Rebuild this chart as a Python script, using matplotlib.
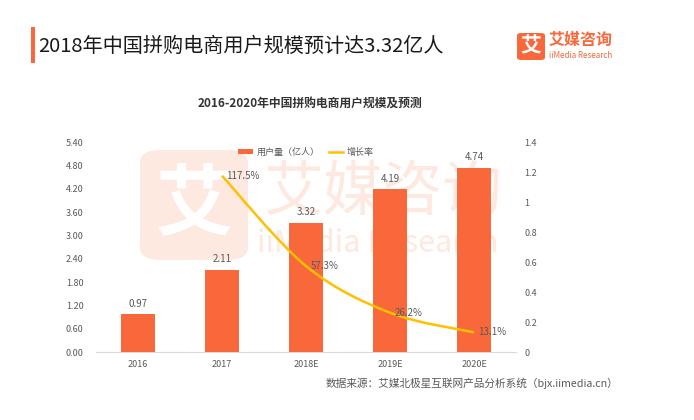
import matplotlib.pyplot as plt
import numpy as np
from matplotlib.path import Path
from matplotlib.patches import PathPatch, FancyBboxPatch, Rectangle

plt.rcParams['font.family'] = ['Noto Sans CJK SC', 'DejaVu Sans']

years = ['2016', '2017', '2018E', '2019E', '2020E']
users = [0.97, 2.11, 3.32, 4.19, 4.74]
growth_years = [1, 2, 3, 4]
growth = [1.175, 0.573, 0.262, 0.131]
growth_labels = ['117.5%', '57.3%', '26.2%', '13.1%']
left_ticks = [0, 0.6, 1.2, 1.8, 2.4, 3.0, 3.6, 4.2, 4.8, 5.4]
right_ticks = [0, 0.2, 0.4, 0.6, 0.8, 1.0, 1.2, 1.4]
right_tick_labels = ['0', '0.2', '0.4', '0.6', '0.8', '1', '1.2', '1.4']

BAR = '#F8683A'
LINE = '#FFC000'
TXT = '#595959'
WM = '#FDE9DF'


def smooth_path(xs, ys):
    # catmull-rom style bezier through the points
    pts = list(zip(xs, ys))
    verts = [pts[0]]
    codes = [Path.MOVETO]
    n = len(pts)
    for i in range(n - 1):
        p0 = pts[i - 1] if i > 0 else pts[i]
        p1 = pts[i]
        p2 = pts[i + 1]
        p3 = pts[i + 2] if i + 2 < n else pts[i + 1]
        c1 = (p1[0] + (p2[0] - p0[0]) / 6, p1[1] + (p2[1] - p0[1]) / 6)
        c2 = (p2[0] - (p3[0] - p1[0]) / 6, p2[1] - (p3[1] - p1[1]) / 6)
        verts += [c1, c2, p2]
        codes += [Path.CURVE4] * 3
    return Path(verts, codes)


def fx(px):
    return px / 694


def fy(py):
    return (420 - py) / 420


fig = plt.figure(figsize=(6.94, 4.2), dpi=100)

# background layer for the watermark
bg = fig.add_axes([0, 0, 1, 1], zorder=-10)
bg.set_xlim(0, 1)
bg.set_ylim(0, 1)
bg.axis('off')
bg.add_patch(FancyBboxPatch((fx(140), fy(260)), fx(108), 110 / 420,
                            boxstyle='round,pad=0.0,rounding_size=0.03',
                            transform=bg.transAxes, fc=WM, ec='none'))
bg.text(fx(194), fy(205), '艾', fontsize=56, color='white', ha='center', va='center',
        fontweight='bold', transform=bg.transAxes)
bg.text(fx(383), fy(193), '艾媒咨询', fontsize=43, color=WM, ha='center', va='center',
        transform=bg.transAxes)
bg.text(fx(378), fy(244), 'iiMedia Research', fontsize=22, color=WM, ha='center',
        va='center', transform=bg.transAxes)

ax = fig.add_axes([fx(96), fy(352), 420 / 694, 210 / 420])
ax2 = ax.twinx()
ax.patch.set_visible(False)
ax2.patch.set_visible(False)

x = np.arange(len(years))
ax.bar(x, users, width=0.4, color=BAR, zorder=3, label='用户量（亿人）')
for xi, v in zip(x, users):
    ax.text(xi, v + 0.14, f'{v:.2f}', ha='center', va='bottom', fontsize=7, color=TXT)

ax.set_xlim(-0.5, 4.5)
ax.set_ylim(0, 5.4)
ax.set_yticks(left_ticks)
ax.set_yticklabels([f'{t:.2f}' for t in left_ticks])
ax.set_xticks(x)
ax.set_xticklabels(years)

ax2.set_ylim(0, 1.4)
ax2.set_yticks(right_ticks)
ax2.set_yticklabels(right_tick_labels)
ax2.add_patch(PathPatch(smooth_path(growth_years, growth), fc='none', ec=LINE, lw=1.8, zorder=4))
ax2.plot([], [], color=LINE, lw=1.8, label='增长率')
for xi, v, lab in zip(growth_years, growth, growth_labels):
    ax2.text(xi + 0.05, v, lab, ha='left', va='center', fontsize=7, color=TXT, zorder=5)

for a in (ax, ax2):
    for s in a.spines.values():
        s.set_visible(False)
    a.tick_params(length=0, labelsize=6.5, colors=TXT)
ax.spines['bottom'].set_visible(True)
ax.spines['bottom'].set_color('#D9D9D9')
ax.tick_params(axis='x', pad=6)
ax.tick_params(axis='y', pad=9)
ax2.tick_params(axis='y', pad=6)

h1, l1 = ax.get_legend_handles_labels()
h2, l2 = ax2.get_legend_handles_labels()
fig.legend(h1 + h2, l1 + l2, loc='center', bbox_to_anchor=(fx(306), fy(152)),
           ncol=2, frameon=False, fontsize=6.5, handlelength=1.6, handleheight=0.6,
           columnspacing=1.0, handletextpad=0.4, labelcolor=TXT)

# chart title
fig.text(fx(310), fy(104), '2016-2020年中国拼购电商用户规模及预测', ha='center',
         va='center', fontsize=8.5, fontweight='bold', color='#333333')

# header
fig.patches.append(Rectangle((fx(31), fy(63)), 4 / 694, 36 / 420,
                             transform=fig.transFigure, fc=BAR, ec='none'))
fig.text(fx(38), fy(46), '2018年中国拼购电商用户规模预计达3.32亿人', ha='left',
         va='center', fontsize=14.5, color='#1a1a1a')

# logo
fig.patches.append(FancyBboxPatch((fx(517), fy(60)), 28 / 694, 27 / 420,
                                  boxstyle='round,pad=0.0,rounding_size=0.006',
                                  transform=fig.transFigure, fc=BAR, ec='none'))
fig.text(fx(531), fy(46), '艾', ha='center', va='center', fontsize=15,
         color='white', fontweight='bold')
fig.text(fx(549), fy(40), '艾媒咨询', ha='left', va='center', fontsize=11.5,
         color=BAR, fontweight='bold')
fig.text(fx(549), fy(55), 'iiMedia Research', ha='left', va='center', fontsize=5.8,
         color=BAR)

# source
fig.text(fx(618), fy(383), '数据来源：艾媒北极星互联网产品分析系统（bjx.iimedia.cn）',
         ha='right', va='center', fontsize=7.7, color=TXT)

fig.savefig('out.png', dpi=100)
